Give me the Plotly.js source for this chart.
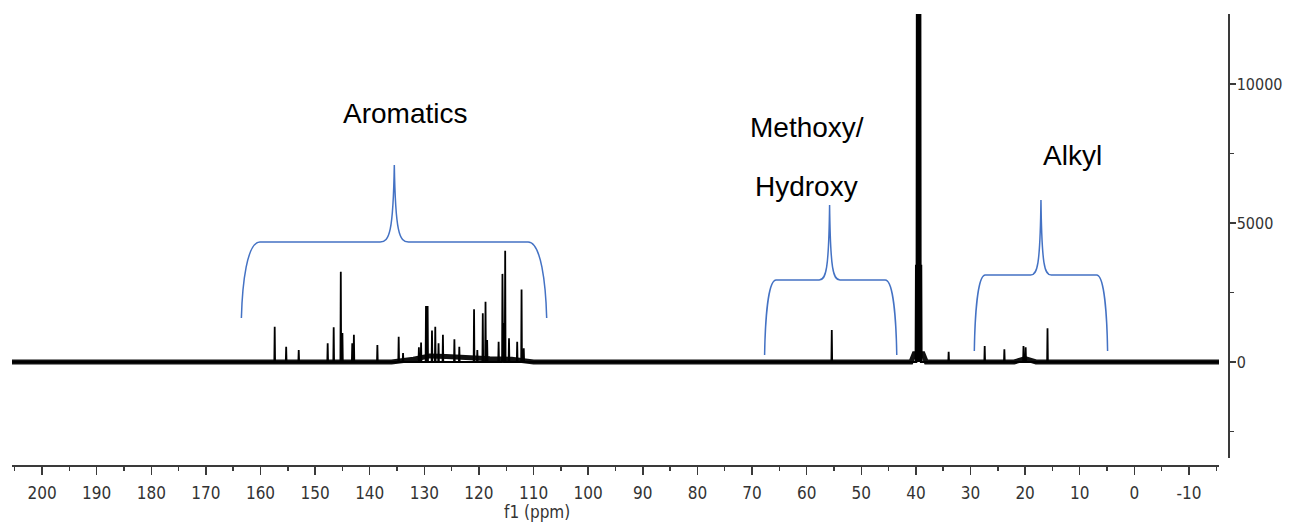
<!DOCTYPE html>
<html>
<head>
<meta charset="utf-8">
<script src="https://cdn.plot.ly/plotly-3.0.1.min.js"></script>
<style>html,body{margin:0;padding:0;background:#fff;}#chart{width:1291px;height:522px;}</style>
</head>
<body>
<div id="chart"></div>
<script>
// ---- Data (13C NMR, f1 in ppm) ----
const peakPpm = [157.4, 155.3, 153.0, 147.7, 146.6, 145.3, 145.0, 143.2, 142.9, 138.6,
  134.7, 133.9, 131.0, 130.6, 129.7, 129.4, 128.6, 128.0, 127.4, 126.6,
  124.5, 123.6, 120.9, 120.3, 119.3, 118.8, 118.5, 116.4, 115.7, 115.5, 115.2,
  114.5, 113.0, 112.2, 111.8,
  55.4,
  40.0, 39.83, 39.67, 39.5, 39.33, 39.17, 39.0,
  34.0, 27.4, 23.8, 20.3, 19.9, 15.9];
const peakHeight = [1270, 550, 430, 670, 1250, 3250, 1040, 670, 980, 610,
  910, 320, 530, 700, 2010, 2010, 1130, 1270, 670, 980,
  820, 550, 1900, 430, 1750, 2170, 790, 730, 3170, 1400, 4000,
  850, 730, 2610, 490,
  1150,
  3500, 15000, 30000, 36000, 30000, 15000, 3500,
  370, 575, 460, 575, 530, 1210];
// broad baseline shape (aromatic hump, solvent foot)
const basePpm = [205.5, 136, 132, 129, 126, 122, 118, 114, 110, 40.9, 40.3, 38.7, 38.1, 22, 20, 18, -15.5];
const baseVal = [0, 0, 100, 220, 200, 150, 120, 100, 0, 0, 300, 300, 0, 0, 120, 0, 0];

const xTickVals = [200, 190, 180, 170, 160, 150, 140, 130, 120, 110, 100, 90, 80, 70, 60, 50, 40, 30, 20, 10, 0, -10];
const xTickText = ["200", "190", "180", "170", "160", "150", "140", "130", "120", "110", "100", "90", "80", "70", "60", "50", "40", "30", "20", "10", "0", "-10"];
const xMinorVals = [205, 195, 185, 175, 165, 155, 145, 135, 125, 115, 105, 95, 85, 75, 65, 55, 45, 35, 25, 15, 5, -5, -15];
const yTickVals = [0, 5000, 10000];
const yTickText = ["0", "5000", "10000"];

const regionLabels = ["Aromatics", "Methoxy/", "Hydroxy", "Alkyl"];

// ---- Build stick spectrum ----
const order = peakPpm.map((p, i) => i).sort((a, b) => peakPpm[b] - peakPpm[a]);
const sx = [205.5], sy = [0];
const d = 0.07;
order.forEach(i => {
  sx.push(peakPpm[i] + d, peakPpm[i], peakPpm[i] - d);
  sy.push(0, peakHeight[i], 0);
});
sx.push(-15.5); sy.push(0);

const traces = [
  {x: basePpm, y: baseVal, mode: 'lines', line: {color: '#111', width: 5}, hoverinfo: 'skip', showlegend: false},
  {x: sx, y: sy, mode: 'lines', line: {color: '#000', width: 1.8}, showlegend: false}
];

// ---- Curly braces (annotation decoration) ----
const braces = [
  {l: 163.5, r: 107.6, tip: 135.5, base: 1583, bar: 4317, top: 7086, cw: 3.4, tw: 2.6},
  {l: 67.7, r: 43.5, tip: 55.8, base: 250, bar: 2950, top: 5650, cw: 2.1, tw: 1.9},
  {l: 29.3, r: 4.9, tip: 17.1, base: 396, bar: 3129, top: 5827, cw: 2.0, tw: 1.9}
];
function bracePath(b) {
  const h = b.bar - b.base;
  const t = b.top - b.bar;
  let p = `M ${b.l},${b.base} `;
  p += `C ${b.l - b.cw * 0.05},${b.bar - h * 0.55} ${b.l - b.cw * 0.3},${b.bar} ${b.l - b.cw},${b.bar} `;
  p += `L ${b.tip + b.tw},${b.bar} `;
  p += `C ${b.tip + b.tw * 0.35},${b.bar} ${b.tip + b.tw * 0.08},${b.bar + t * 0.12} ${b.tip},${b.top} `;
  p += `C ${b.tip - b.tw * 0.08},${b.bar + t * 0.12} ${b.tip - b.tw * 0.35},${b.bar} ${b.tip - b.tw},${b.bar} `;
  p += `L ${b.r + b.cw},${b.bar} `;
  p += `C ${b.r + b.cw * 0.3},${b.bar} ${b.r + b.cw * 0.05},${b.bar - h * 0.55} ${b.r},${b.base}`;
  return p;
}
const shapes = braces.map(b => ({
  type: 'path', xref: 'x', yref: 'y', path: bracePath(b),
  line: {color: '#4472C4', width: 1.5}, fillcolor: 'rgba(0,0,0,0)'
}));

const labelFont = {family: 'Liberation Sans, Arial, sans-serif', size: 28, color: '#000'};
const annotations = [
  {x: 133.5, y: 8957, text: regionLabels[0]},
  {x: 60.0, y: 8453, text: regionLabels[1]},
  {x: 60.0, y: 6331, text: regionLabels[2]},
  {x: 11.3, y: 7446, text: regionLabels[3]}
].map(a => Object.assign(a, {xref: 'x', yref: 'y', showarrow: false, font: labelFont, xanchor: 'center', yanchor: 'middle'}));
annotations.push({xref: 'x', yref: 'paper', x: 109.3, y: -0.102, text: 'f1 (ppm)', showarrow: false,
  xanchor: 'center', yanchor: 'middle', font: {family: 'DejaVu Sans Condensed, DejaVu Sans, sans-serif', size: 17, color: '#333'}});

const tickFont = {family: 'DejaVu Sans Condensed, DejaVu Sans, sans-serif', size: 17, color: '#333'};
const layout = {
  width: 1291, height: 522,
  margin: {l: 12, r: 63, t: 14, b: 56, pad: 0},
  paper_bgcolor: '#fff', plot_bgcolor: '#fff',
  showlegend: false,
  xaxis: {
    domain: [0, 0.9926], range: [205.5, -15.5], anchor: 'free', position: 0,
    showline: true, linecolor: '#3a3a3a', linewidth: 2,
    ticks: 'outside', ticklen: 8, tickwidth: 1.5, tickcolor: '#3a3a3a',
    tickmode: 'array', tickvals: xTickVals, ticktext: xTickText, tickfont: tickFont,
    ticklabelstandoff: 4,
    minor: {tickmode: 'array', tickvals: xMinorVals, ticks: 'outside', ticklen: 4, tickwidth: 1.5, tickcolor: '#3a3a3a', showgrid: false},
    showgrid: false, zeroline: false
  },
  yaxis: {
    domain: [0.0177, 1], range: [-3453, 12518], side: 'right', anchor: 'free', position: 1,
    showline: true, linecolor: '#3a3a3a', linewidth: 1.5,
    ticks: 'outside', ticklen: 6, tickwidth: 1.5, tickcolor: '#3a3a3a',
    tickmode: 'array', tickvals: yTickVals, ticktext: yTickText,
    tickfont: {family: 'DejaVu Sans Condensed, DejaVu Sans, sans-serif', size: 16, color: '#333'},
    ticklabelstandoff: -2,
    minor: {tickmode: 'array', tickvals: [-2500, 2500, 7500], ticks: 'outside', ticklen: 4, tickwidth: 1.5, tickcolor: '#3a3a3a', showgrid: false},
    showgrid: false, zeroline: false
  },
  shapes: shapes,
  annotations: annotations
};
Plotly.newPlot('chart', traces, layout, {displayModeBar: false, staticPlot: true});
</script>
</body>
</html>
